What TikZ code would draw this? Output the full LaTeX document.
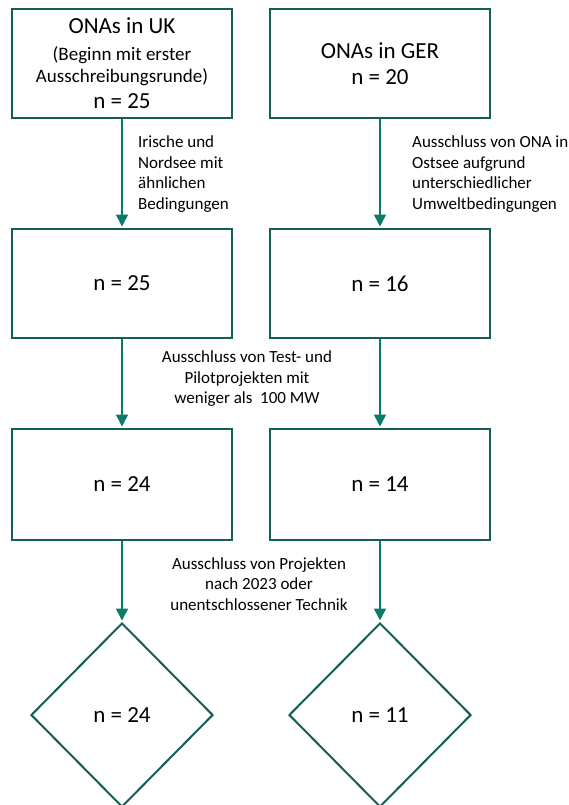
\documentclass[tikz,border=0pt]{standalone}
\usepackage{fontspec}
\setmainfont{Carlito}
\usetikzlibrary{arrows.meta,shapes.geometric}
\definecolor{boxline}{HTML}{135F55}
\definecolor{arrowc}{HTML}{0B7A68}
\tikzset{
  stagebox/.style={draw=boxline, line width=2pt, rectangle, minimum width=220pt, inner sep=0pt, align=center, font=\fontsize{23}{26}\selectfont},
  finalbox/.style={draw=boxline, line width=2pt, diamond, minimum width=182pt, minimum height=184pt, inner sep=0pt, font=\fontsize{23}{26}\selectfont},
  flow/.style={draw=arrowc, line width=1.6pt, -{Triangle[width=12pt,length=12pt]}, shorten >=1.5pt},
  note/.style={font=\fontsize{17}{20.5}\selectfont, inner sep=0pt},
}
\begin{document}
\begin{tikzpicture}[x=1pt,y=-1pt]
\clip (0,0) rectangle (569,805);
\fill[white] (0,0) rectangle (569,805);
% row 1
\node[stagebox, minimum height=109pt, text depth=0pt] (uk1) at (122,63.5)
  {{\fontsize{23}{26}\selectfont ONAs in UK}\\[1pt]{\fontsize{19}{22}\selectfont (Beginn mit erster}\\[-4pt]{\fontsize{19}{22}\selectfont Ausschreibungsrunde)}\\{\fontsize{23}{26}\selectfont n = 25}};
\node[stagebox, minimum height=109pt] (ger1) at (380,63.5) {ONAs in GER\\n = 20};
% row 2
\node[stagebox, minimum height=109pt] (uk2) at (122,283.5) {n = 25};
\node[stagebox, minimum height=109pt] (ger2) at (380,283.5) {n = 16};
% row 3
\node[stagebox, minimum height=111pt] (uk3) at (122,484.5) {n = 24};
\node[stagebox, minimum height=111pt] (ger3) at (380,484.5) {n = 14};
% diamonds
\node[finalbox] (uk4) at (122,715) {n = 24};
\node[finalbox] (ger4) at (380,715) {n = 11};
% connectors
\draw[flow] (uk1) -- (uk2);
\draw[flow] (ger1) -- (ger2);
\draw[flow] (uk2) -- (uk3);
\draw[flow] (ger2) -- (ger3);
\draw[flow] (uk3.south) -- (uk4.north);
\draw[flow] (ger3.south) -- (ger4.north);
% labels
\node[note, align=left, anchor=west] (l1) at (138,174) {Irische und\\Nordsee mit\\ähnlichen\\Bedingungen};
\node[note, align=left, anchor=west] (l2) at (412,174) {Ausschluss von ONA in\\Ostsee aufgrund\\unterschiedlicher\\Umweltbedingungen};
\node[note, align=center] (l3) at (247,379) {Ausschluss von Test- und\\Pilotprojekten mit\\weniger als~~100 MW};
\node[note, align=center] (l4) at (259,584) {Ausschluss von Projekten\\nach 2023 oder\\unentschlossener Technik};
\end{tikzpicture}
\end{document}
